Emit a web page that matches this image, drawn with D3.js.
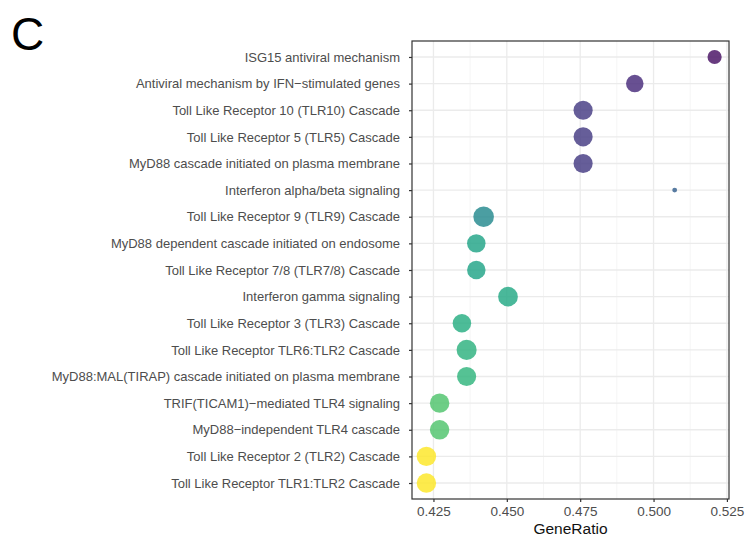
<!DOCTYPE html>
<html><head><meta charset="utf-8">
<script src="https://cdn.jsdelivr.net/npm/d3@7"></script>
<style>body{margin:0;background:#fff;} svg{display:block;font-family:"Liberation Sans",Arial,sans-serif;}</style>
</head><body>
<svg id="chart" width="745" height="537"></svg>
<script>
const categories = [
  "ISG15 antiviral mechanism",
  "Antiviral mechanism by IFN\u2212stimulated genes",
  "Toll Like Receptor 10 (TLR10) Cascade",
  "Toll Like Receptor 5 (TLR5) Cascade",
  "MyD88 cascade initiated on plasma membrane",
  "Interferon alpha/beta signaling",
  "Toll Like Receptor 9 (TLR9) Cascade",
  "MyD88 dependent cascade initiated on endosome",
  "Toll Like Receptor 7/8 (TLR7/8) Cascade",
  "Interferon gamma signaling",
  "Toll Like Receptor 3 (TLR3) Cascade",
  "Toll Like Receptor TLR6:TLR2 Cascade",
  "MyD88:MAL(TIRAP) cascade initiated on plasma membrane",
  "TRIF(TICAM1)\u2212mediated TLR4 signaling",
  "MyD88\u2212independent TLR4 cascade",
  "Toll Like Receptor 2 (TLR2) Cascade",
  "Toll Like Receptor TLR1:TLR2 Cascade"
];
const geneRatio = [0.5208, 0.4936, 0.4760, 0.4760, 0.4760, 0.5072, 0.4421, 0.4396, 0.4396, 0.4504, 0.4347, 0.4363, 0.4363, 0.4271, 0.4271, 0.4226, 0.4226];
const geneCount = [17, 26, 31, 31, 31, 2, 36, 29, 29, 33, 29, 34, 31, 32, 32, 32, 32];
const pAdjust = [0.0004, 0.0012, 0.0017, 0.0017, 0.0017, 0.0030, 0.0047, 0.0058, 0.0058, 0.0060, 0.0062, 0.0064, 0.0065, 0.0072, 0.0072, 0.0100, 0.0100];
const xTicks = [0.425, 0.450, 0.475, 0.500, 0.525];
const xMinor = [0.4375, 0.4625, 0.4875, 0.5125];
const panelLetter = "C";
const xTitle = "GeneRatio";

const svg = d3.select("#chart");
const P = {left: 412, right: 729, top: 41, bottom: 499};

const xMin = d3.min(geneRatio), xMax = d3.max(geneRatio);
const pad = (xMax - xMin) * 0.05;
const x = d3.scaleLinear().domain([xMin - pad, xMax + pad]).range([P.left, P.right]);
const y = d3.scalePoint().domain(categories).range([P.top, P.bottom]).padding(0.6);
const r = d3.scaleSqrt().domain([0, 36]).range([0, 10.3]);
const color = d3.scaleSequential(d3.interpolateViridis).domain([0, 0.01]);

svg.append("rect").attr("x", P.left).attr("y", P.top).attr("width", P.right - P.left).attr("height", P.bottom - P.top).attr("fill", "#fff");

svg.append("g").selectAll("line").data(xMinor).join("line")
  .attr("x1", d => x(d)).attr("x2", d => x(d)).attr("y1", P.top).attr("y2", P.bottom)
  .attr("stroke", "#f2f2f2").attr("stroke-width", 0.8);
svg.append("g").selectAll("line").data(xTicks.filter(d => x(d) <= P.right)).join("line")
  .attr("x1", d => x(d)).attr("x2", d => x(d)).attr("y1", P.top).attr("y2", P.bottom)
  .attr("stroke", "#ebebeb").attr("stroke-width", 1.3);
svg.append("g").selectAll("line").data(categories).join("line")
  .attr("x1", P.left).attr("x2", P.right).attr("y1", d => y(d)).attr("y2", d => y(d))
  .attr("stroke", "#ebebeb").attr("stroke-width", 1.3);

const rows = categories.map((c, i) => ({c, g: geneRatio[i], n: geneCount[i], p: pAdjust[i]}));
svg.append("g").selectAll("circle").data(rows).join("circle")
  .attr("cx", d => x(d.g)).attr("cy", d => y(d.c)).attr("r", d => r(d.n))
  .attr("fill", d => color(d.p)).attr("fill-opacity", 0.82);

svg.append("rect").attr("x", P.left).attr("y", P.top).attr("width", P.right - P.left).attr("height", P.bottom - P.top)
  .attr("fill", "none").attr("stroke", "#333").attr("stroke-width", 1.2);

const yAxis = svg.append("g").attr("transform", `translate(${P.left},0)`)
  .call(d3.axisLeft(y).tickSize(3).tickPadding(9));
yAxis.select(".domain").remove();
yAxis.selectAll(".tick line").attr("stroke", "#333").attr("stroke-width", 1.2);
yAxis.selectAll(".tick text").attr("fill", "#4d4d4d").style("font-size", "13px").style("font-family", "Liberation Sans, Arial, sans-serif");

const xAxis = svg.append("g").attr("transform", `translate(0,${P.bottom})`)
  .call(d3.axisBottom(x).tickValues(xTicks).tickFormat(d3.format(".3f")).tickSize(3).tickPadding(4));
xAxis.select(".domain").remove();
xAxis.selectAll(".tick line").attr("stroke", "#333").attr("stroke-width", 1.2);
xAxis.selectAll(".tick text").attr("fill", "#4d4d4d").style("font-size", "13.5px").style("font-family", "Liberation Sans, Arial, sans-serif");

svg.append("text").attr("x", (P.left + P.right) / 2).attr("y", 534).attr("text-anchor", "middle")
  .attr("fill", "#111").style("font-size", "15.5px").text(xTitle);

svg.append("text").attr("x", 11).attr("y", 50).attr("fill", "#000").style("font-size", "46px").text(panelLetter);
</script>
</body></html>
